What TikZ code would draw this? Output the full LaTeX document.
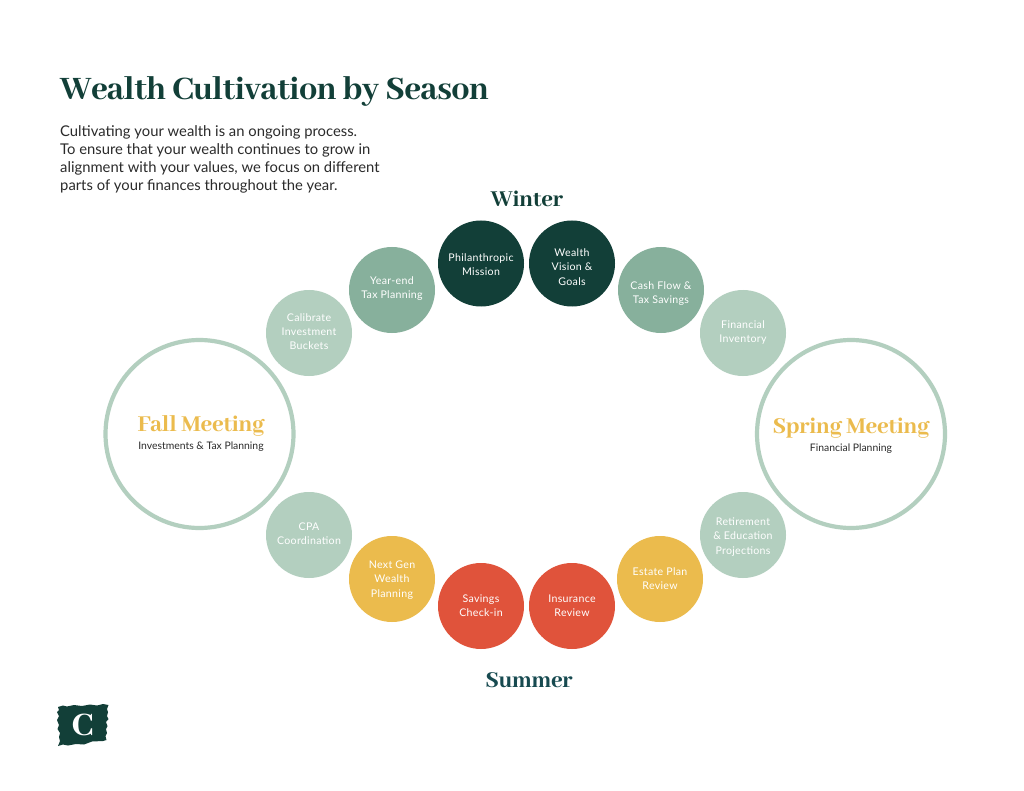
\documentclass[tikz,border=0pt]{standalone}
\usepackage{fontspec}
\setmainfont{Lato}
\newfontfamily\headfont{Abhaya Libre}[BoldFont={Abhaya Libre ExtraBold}]
\definecolor{dkgreen}{HTML}{123F38}
\definecolor{midgreen}{HTML}{87B09C}
\definecolor{ltgreen}{HTML}{B3CFBF}
\definecolor{gold}{HTML}{EBBB4D}
\definecolor{redor}{HTML}{E0533B}
\definecolor{teal}{HTML}{174A50}
\definecolor{ink}{HTML}{2B2B2B}
\tikzset{
  x=1pt,y=-1pt,
  disc/.style={circle,minimum size=86pt,inner sep=0pt},
  disctext/.style={inner sep=0pt,align=center,text=white,
    font=\fontsize{10.6}{14.3}\selectfont\addfontfeatures{LetterSpace=3}},
  ring/.style={circle,minimum size=188pt,inner sep=0pt,draw=ltgreen,line width=4.2pt},
  season/.style={font=\headfont\bfseries\fontsize{25}{28}\selectfont\addfontfeatures{LetterSpace=-1}},
  meeting/.style={font=\headfont\bfseries\fontsize{25}{28}\selectfont\addfontfeatures{LetterSpace=-1.2},text=gold,inner sep=0pt},
  sub/.style={font=\fontsize{10.4}{12}\selectfont,text=ink,inner sep=0pt},
}
% name, fill, position, text offset (positive = up), text
\newcommand{\bub}[5]{%
  \node[disc,fill=#2] (#1) at (#3) {};
  \node[disctext,yshift=#4pt] (#1T) at (#1.center) {#5};
}
\begin{document}
\begin{tikzpicture}
\useasboundingbox (0,0) rectangle (1024,791);
\fill[white] (0,0) rectangle (1024,791);
\node[anchor=west,inner sep=0pt,text=dkgreen,font=\headfont\bfseries\fontsize{36}{40}\selectfont\addfontfeatures{LetterSpace=-1.6}] (title) at (60,91.5) {Wealth Cultivation by Season};
\node[anchor=north west,inner sep=0pt,align=left,text=ink,font=\fontsize{14.8}{18.1}\selectfont] (intro) at (60,125.5)
 {Cultivating your wealth is an ongoing process.\\To ensure that your wealth continues to grow in\\alignment with your values, we focus on different\\parts of your finances throughout the year.};
\node[season,text=dkgreen] (winter) at (527,199) {Winter};
\node[season,text=teal] (summer) at (529,680) {Summer};

\bub{calibrate}{ltgreen}{309,333}{1.5}{Calibrate\\Investment\\Buckets}
\bub{yearend}{midgreen}{392,290}{1.5}{Year-end\\Tax Planning}
\bub{phil}{dkgreen}{481,263.5}{-1}{Philanthropic\\Mission}
\bub{vision}{dkgreen}{572,263.5}{-3.5}{Wealth\\Vision \&\\Goals}
\bub{cash}{midgreen}{661,290}{-3.5}{Cash Flow \&\\Tax Savings}
\bub{inventory}{ltgreen}{743,333}{0.5}{Financial\\Inventory}
\bub{retire}{ltgreen}{743,535}{-2}{Retirement\\\& Education\\Projections}
\bub{estate}{gold}{660,579}{0.5}{Estate Plan\\Review}
\bub{insurance}{redor}{572,606}{0.5}{Insurance\\Review}
\bub{savings}{redor}{481,606}{0}{Savings\\Check-in}
\bub{nextgen}{gold}{392,579}{-1}{Next Gen\\Wealth\\Planning}
\bub{cpa}{ltgreen}{309,535}{1}{CPA\\Coordination}

\node[ring] (fall) at (199.5,434) {};
\node[ring] (spring) at (851,434) {};
\node[meeting] (fallT) at (201,426) {Fall Meeting};
\node[sub] (fallS) at (201,447) {Investments \& Tax Planning};
\node[meeting] (springT) at (851,428) {Spring Meeting};
\node[sub] (springS) at (851,449) {Financial Planning};

\fill[dkgreen] (58,707) -- (63,705.5) -- (67,706.5) -- (74,705) -- (82,706) -- (90,704.5) -- (97,705.5) -- (103,704) -- (108.5,705)
 -- (107,709) -- (108,712) -- (107,716) -- (108.5,719) -- (106,722) -- (107.5,726) -- (106,729) -- (107,733) -- (105.5,736) -- (106.5,740) -- (103,741)
 -- (92,741.5) -- (84,744.5) -- (76,744) -- (68,745.5) -- (63,744.5) -- (58,746)
 -- (60,741) -- (59,737) -- (60,733) -- (57.5,729) -- (59,725) -- (57,720) -- (59,716) -- (57,712) -- (59,710) -- cycle;
\node[text=white,inner sep=0pt,font=\headfont\bfseries\fontsize{36}{36}\selectfont] (logo) at (82.5,724.5) {C};
\end{tikzpicture}
\end{document}
